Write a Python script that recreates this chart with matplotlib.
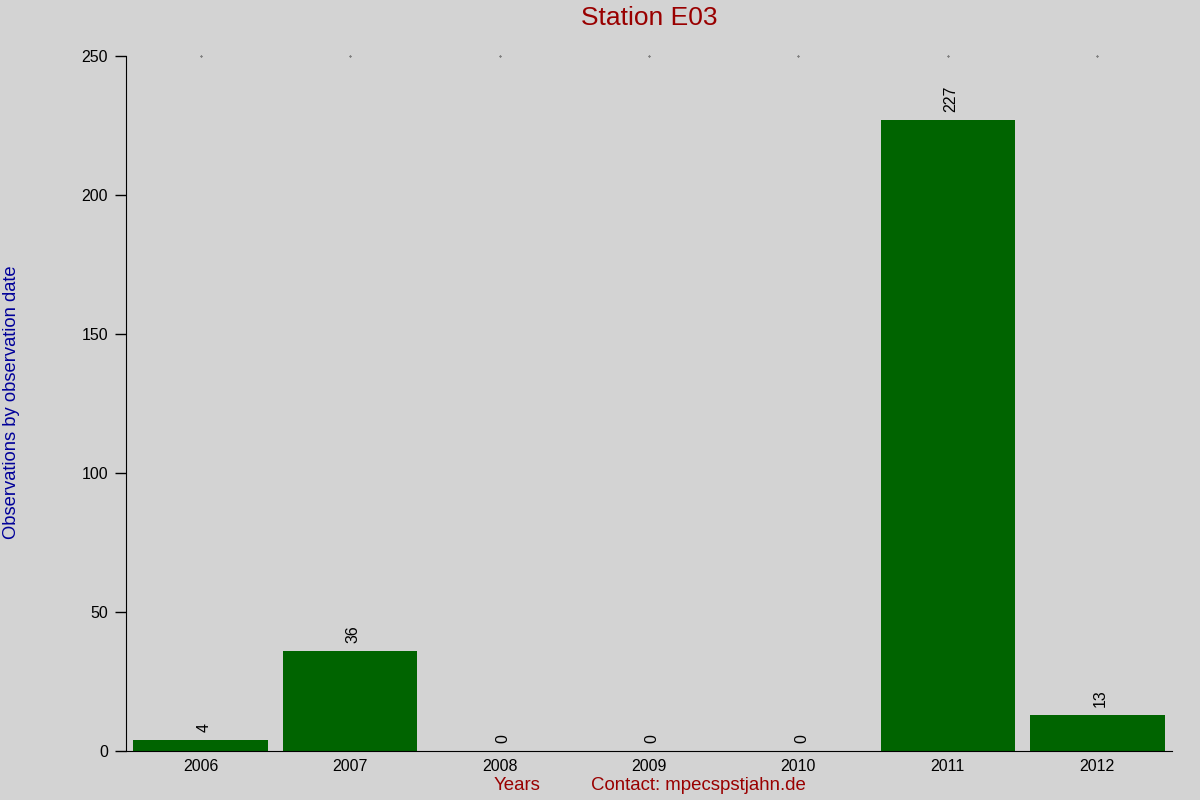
import numpy as np
import matplotlib
matplotlib.use("Agg")
import matplotlib.pyplot as plt

plt.rcParams['font.family'] = ['Liberation Sans', 'DejaVu Sans']

# observations per year
years = ["2006", "2007", "2008", "2009", "2010", "2011", "2012"]
counts = [4, 36, 0, 0, 0, 227, 13]

bg = "#d3d3d3"
fig = plt.figure(figsize=(12, 8), dpi=100, facecolor=bg)
ax = fig.add_axes([126/1200, 1-751/800, (1172-126)/1200, (751-56)/800])
ax.set_facecolor(bg)

x = np.arange(len(years))
ax.bar(x, counts, width=0.9, color="#006400")
for xi, c in zip(x, counts):
    ax.text(xi + 0.02, c + 3, str(c), rotation=90, ha="center", va="bottom", fontsize=11.5)

ax.set_xlim(-0.5, 6.5)
ax.set_ylim(0, 250)
ax.set_yticks([0, 50, 100, 150, 200, 250])
ax.tick_params(axis="y", length=8, labelsize=11.5, width=1, pad=5)
ax.set_xticks(x)
ax.set_xticklabels(years)
ax.tick_params(axis="x", length=0, labelsize=11.5, pad=6)
for s in ["top", "right"]:
    ax.spines[s].set_visible(False)
ax.spines["bottom"].set_bounds(-0.5, 6.5)

# tiny dots along the top at bar centres
ax.plot(x, [250] * len(x), ls="none", marker=".", ms=0.6, color="black", clip_on=False)

fig.text(649/1200, 1 - 18/800, "Station E03", ha="center", va="center", fontsize=19, color="#990000")
fig.text(0.01, 1 - 402/800, "Observations by observation date", rotation=90, ha="center", va="center",
         fontsize=13.2, color="#000099")
fig.text(517/1200, 1 - 786/800, "Years", ha="center", va="center", fontsize=13.4, color="#990000")
fig.text(698/1200, 1 - 786/800, "Contact: mpecspstjahn.de", ha="center", va="center", fontsize=13.4, color="#990000")

fig.savefig("out.png", dpi=100, facecolor=bg)
